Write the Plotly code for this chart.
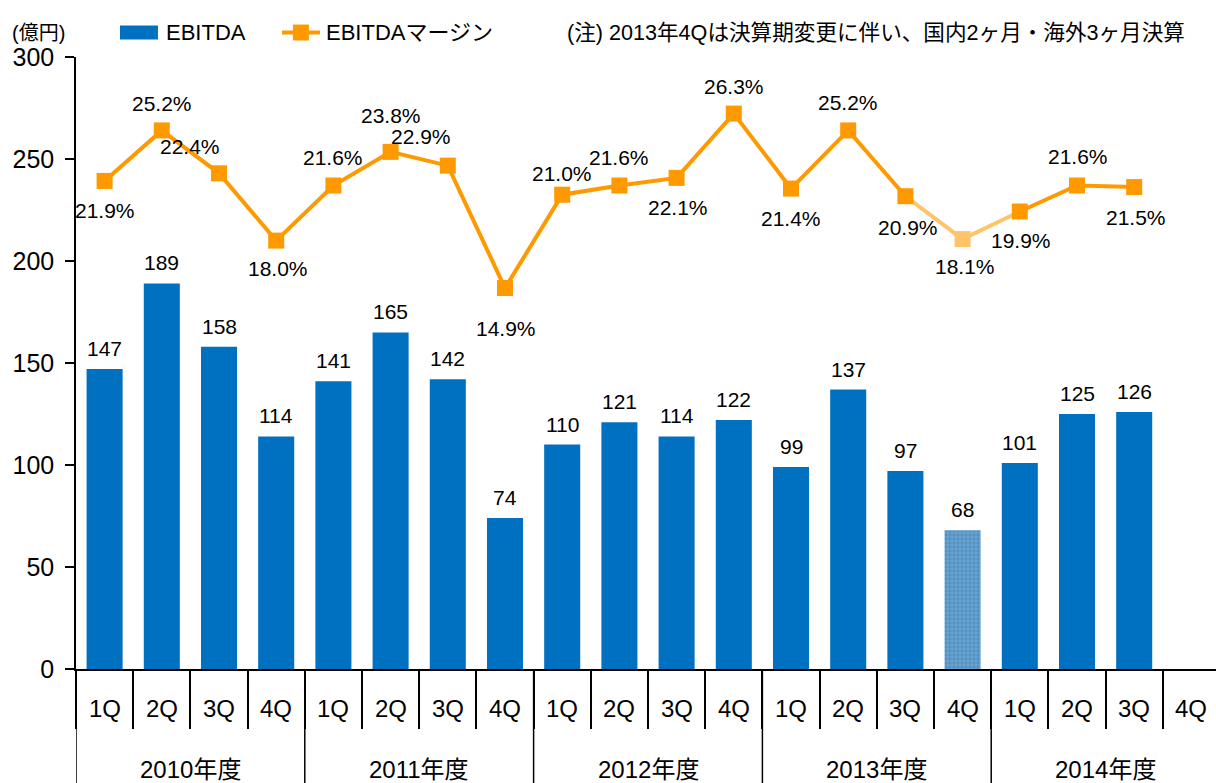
import plotly.graph_objects as go

years = ["2010年度", "2011年度", "2012年度", "2013年度", "2014年度"]
quarters = ["1Q", "2Q", "3Q", "4Q"]
ebitda = [147, 189, 158, 114, 141, 165, 142, 74, 110, 121, 114, 122, 99, 137, 97, 68, 101, 125, 126, None]
margin = [21.9, 25.2, 22.4, 18.0, 21.6, 23.8, 22.9, 14.9, 21.0, 21.6, 22.1, 26.3,
          21.4, 25.2, 20.9, 18.1, 19.9, 21.6, 21.5, None]

# label placement (pixel offsets from the marker) for the margin labels
label_dy = [30, -27, -27, 28, -28, -36, -29, 40, -21, -28, 30, -27, 30, -28, 31, 27, 29, -29, 30, 0]
label_dx = [0, 0, -29, 2, 0, 0, -27, 1, 0, 0, 1, 0, 0, 0, 3, 2, 1, 1, 2, 0]

cats = [f"{y}|{q}" for y in years for q in quarters]
qlabels = [q for y in years for q in quarters]

FONT = "Liberation Sans, Arial, Noto Sans CJK JP, sans-serif"
BLUE = "#0070C0"
ORANGE = "#FF9900"
LIGHT_ORANGE = "#FFC469"

special = 15  # 2013 4Q (changed fiscal period)

bar_colors = [BLUE] * len(ebitda)
bar_colors[special] = "#62A6DC"
pattern_shapes = [""] * len(ebitda)
pattern_shapes[special] = "+"

fig = go.Figure()

fig.add_trace(go.Bar(
    x=cats, y=ebitda, name="EBITDA",
    marker=dict(color=bar_colors, line=dict(width=0),
                pattern=dict(shape=pattern_shapes, fgcolor="#8DC0EA", size=4, solidity=0.25)),
    width=0.63, showlegend=False, yaxis="y",
))

# Line segments (the segment around 2013 4Q is lighter)
for (a, b, col) in [(0, 15, ORANGE), (14, 17, LIGHT_ORANGE), (16, 19, ORANGE)]:
    fig.add_trace(go.Scatter(
        x=cats[a:b], y=margin[a:b], mode="lines", line=dict(color=col, width=4),
        yaxis="y2", showlegend=False, hoverinfo="skip",
    ))

mcolors = [ORANGE] * len(margin)
mcolors[special] = LIGHT_ORANGE
fig.add_trace(go.Scatter(
    x=cats, y=margin, mode="markers", name="EBITDAマージン",
    marker=dict(symbol="square", size=16, color=mcolors, line=dict(width=0)),
    yaxis="y2", showlegend=False, cliponaxis=False,
))

annotations = []
# bar value labels
for c, v in zip(cats, ebitda):
    if v is None:
        continue
    annotations.append(dict(x=c, y=v, xref="x", yref="y", text=str(v), showarrow=False,
                            yanchor="bottom", yshift=7, font=dict(size=21, family=FONT, color="black")))
# margin labels
for c, v, dx, dy in zip(cats, margin, label_dx, label_dy):
    if v is None:
        continue
    annotations.append(dict(x=c, y=v, xref="x", yref="y2", text=f"{v:.1f}%", showarrow=False,
                            xshift=dx, yshift=-dy, font=dict(size=21, family=FONT, color="black")))

# quarter labels and year labels under the axis
for c, q in zip(cats, qlabels):
    annotations.append(dict(x=c, y=-0.065, xref="x", yref="paper", text=q, showarrow=False,
                            yanchor="middle", font=dict(size=24, family=FONT, color="black")))
for i, y in enumerate(years):
    annotations.append(dict(x=4 * i + 1.5, y=-0.165, xref="x", yref="paper", text=y, showarrow=False,
                            yanchor="middle", font=dict(size=24, family=FONT, color="black")))

# header texts
HY = 1.04
annotations += [
    dict(text="(億円)", xref="paper", yref="paper", x=-0.058, y=HY, xanchor="left", yanchor="middle",
         showarrow=False, font=dict(size=20, family=FONT)),
    dict(text="EBITDA", xref="paper", yref="paper", x=0.0772, y=HY, xanchor="left", yanchor="middle",
         showarrow=False, font=dict(size=22, family=FONT)),
    dict(text="EBITDAマージン", xref="paper", yref="paper", x=0.2175, y=HY, xanchor="left", yanchor="middle",
         showarrow=False, font=dict(size=22, family=FONT)),
    dict(text="(注) 2013年4Qは決算期変更に伴い、国内2ヶ月・海外3ヶ月決算", xref="paper", yref="paper",
         x=0.429, y=HY, xanchor="left", yanchor="middle", showarrow=False,
         font=dict(size=21.6, family=FONT)),
]

shapes = []
# year dividers extending through both label rows
for i in range(len(years) + 1):
    shapes.append(dict(type="line", xref="x", yref="paper", x0=4 * i - 0.5, x1=4 * i - 0.5,
                       y0=0, y1=-0.2, line=dict(color="black", width=1.5)))
# legend symbols
shapes.append(dict(type="rect", xref="paper", yref="paper", x0=0.0386, x1=0.0719, y0=HY - 0.0115, y1=HY + 0.0115,
                   fillcolor=BLUE, line=dict(width=0)))
shapes.append(dict(type="line", xref="paper", yref="paper", x0=0.1807, x1=0.214, y0=HY, y1=HY,
                   line=dict(color=ORANGE, width=4)))
shapes.append(dict(type="rect", xref="paper", yref="paper", x0=0.1903, x1=0.2043, y0=HY - 0.013, y1=HY + 0.013,
                   fillcolor=ORANGE, line=dict(width=0)))

fig.update_layout(
    width=1216, height=783,
    margin=dict(l=76, r=0, t=57, b=114, autoexpand=False),
    paper_bgcolor="white", plot_bgcolor="white",
    font=dict(family=FONT, size=22, color="black"),
    showlegend=False,
    xaxis=dict(type="category", categoryorder="array", categoryarray=cats, range=[-0.5, 19.43],
               showline=True, linecolor="black", linewidth=2, automargin=False,
               ticks="outside", tickson="boundaries", ticklen=58, tickcolor="black", tickwidth=1.5,
               showticklabels=False, showgrid=False),
    yaxis=dict(range=[0, 300], dtick=50, showline=True, linecolor="black", linewidth=1.5, automargin=False,
               ticks="outside", ticklen=9, tickcolor="black", tickwidth=1.5, showgrid=False, zeroline=False,
               tickfont=dict(size=25, family=FONT), ticklabelstandoff=6),
    yaxis2=dict(range=[-10, 30], overlaying="y", visible=False, showgrid=False, automargin=False),
    annotations=annotations,
    shapes=shapes,
)

fig.write_html("out.html", config={"displayModeBar": False},
               post_script="document.body.style.margin='0px';document.body.style.overflow='hidden';")
